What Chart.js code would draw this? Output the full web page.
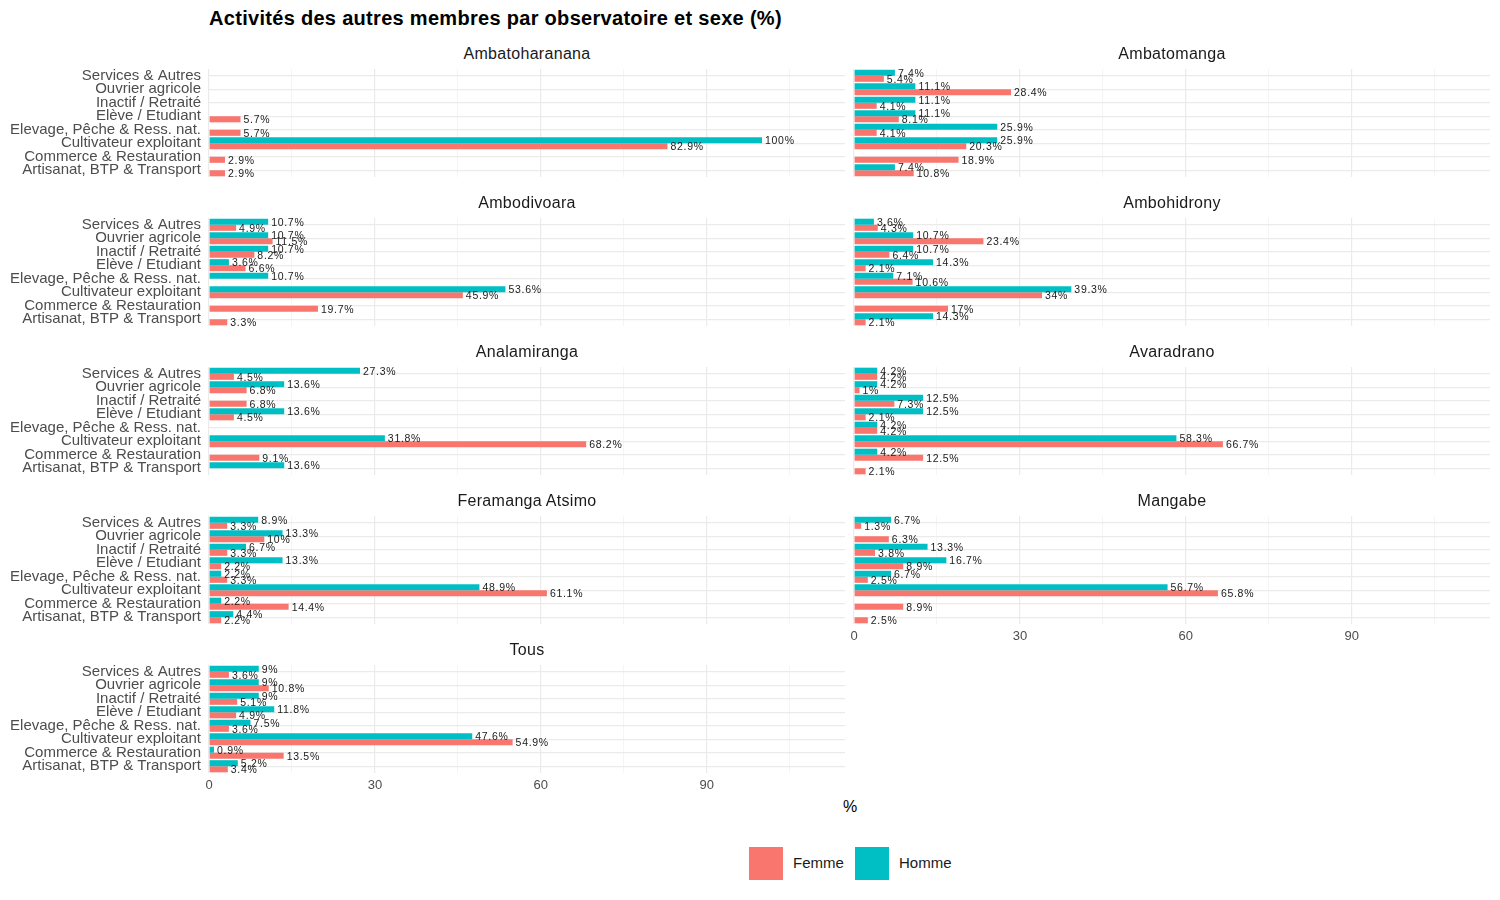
<!DOCTYPE html>
<html>
<head>
<meta charset="utf-8">
<script src="https://cdn.jsdelivr.net/npm/chart.js@4.4.1/dist/chart.umd.min.js"></script>
<style>
  body { margin: 0; background: #fff; width: 1500px; height: 900px; position: relative; overflow: hidden;
         font-family: "Liberation Sans", Arial, sans-serif; }
  canvas { position: absolute; }
  .title { position: absolute; left: 209px; top: 6px; font-size: 20px; letter-spacing: 0.3px; font-weight: bold; color: #000; line-height: 24px; }
  .strip { position: absolute; width: 636px; text-align: center; font-size: 16px; letter-spacing: 0.3px; color: #1a1a1a; line-height: 18px; }
  .xtitle { position: absolute; left: 800px; width: 100px; top: 797px; text-align: center; font-size: 16px; color: #000; line-height: 20px; }
  .key { position: absolute; top: 847px; width: 34px; height: 33px; }
  .keytxt { position: absolute; top: 854px; font-size: 15px; color: #1a1a1a; line-height: 18px; }
</style>
</head>
<body>
<div class="title">Activités des autres membres par observatoire et sexe (%)</div>
<div class="xtitle">%</div>
<div class="key" style="left:749px;background:#F8766D"></div>
<div class="keytxt" style="left:793px">Femme</div>
<div class="key" style="left:855px;background:#00BFC4"></div>
<div class="keytxt" style="left:899px">Homme</div>

<script>
// Categories, top to bottom
const categories = ['Services & Autres', 'Ouvrier agricole', 'Inactif / Retraité', 'Elève / Etudiant',
  'Elevage, Pêche & Ress. nat.', 'Cultivateur exploitant', 'Commerce & Restauration', 'Artisanat, BTP & Transport'];

const panelNames = ['Ambatoharanana', 'Ambatomanga', 'Ambodivoara', 'Ambohidrony', 'Analamiranga',
  'Avaradrano', 'Feramanga Atsimo', 'Mangabe', 'Tous'];

// Homme / Femme values (%), same order as categories; null = no bar
const ambatoharananaH = [null, null, null, null, null, 100, null, null];
const ambatoharananaF = [null, null, null, 5.7, 5.7, 82.9, 2.9, 2.9];
const ambatomangaH = [7.4, 11.1, 11.1, 11.1, 25.9, 25.9, null, 7.4];
const ambatomangaF = [5.4, 28.4, 4.1, 8.1, 4.1, 20.3, 18.9, 10.8];
const ambodivoaraH = [10.7, 10.7, 10.7, 3.6, 10.7, 53.6, null, null];
const ambodivoaraF = [4.9, 11.5, 8.2, 6.6, null, 45.9, 19.7, 3.3];
const ambohidronyH = [3.6, 10.7, 10.7, 14.3, 7.1, 39.3, null, 14.3];
const ambohidronyF = [4.3, 23.4, 6.4, 2.1, 10.6, 34, 17, 2.1];
const analamirangaH = [27.3, 13.6, null, 13.6, null, 31.8, null, 13.6];
const analamirangaF = [4.5, 6.8, 6.8, 4.5, null, 68.2, 9.1, null];
const avaradranoH = [4.2, 4.2, 12.5, 12.5, 4.2, 58.3, 4.2, null];
const avaradranoF = [4.2, 1, 7.3, 2.1, 4.2, 66.7, 12.5, 2.1];
const feramangaH = [8.9, 13.3, 6.7, 13.3, 2.2, 48.9, 2.2, 4.4];
const feramangaF = [3.3, 10, 3.3, 2.2, 3.3, 61.1, 14.4, 2.2];
const mangabeH = [6.7, null, 13.3, 16.7, 6.7, 56.7, null, null];
const mangabeF = [1.3, 6.3, 3.8, 8.9, 2.5, 65.8, 8.9, 2.5];
const tousH = [9, 9, 9, 11.8, 7.5, 47.6, 0.9, 5.2];
const tousF = [3.6, 10.8, 5.1, 4.9, 3.6, 54.9, 13.5, 3.4];

const hommeValues = [ambatoharananaH, ambatomangaH, ambodivoaraH, ambohidronyH, analamirangaH,
  avaradranoH, feramangaH, mangabeH, tousH];
const femmeValues = [ambatoharananaF, ambatomangaF, ambodivoaraF, ambohidronyF, analamirangaF,
  avaradranoF, feramangaF, mangabeF, tousF];

const majorTicks = [0, 30, 60, 90];
const minorTicks = [15, 45, 75, 105];
const xMax = 115;

// Text after each bar
const valueLabels = {
  id: 'valueLabels',
  afterDatasetsDraw(chart) {
    const ctx = chart.ctx;
    ctx.save();
    ctx.font = '10.5px "Liberation Sans", Arial, sans-serif';
    ctx.letterSpacing = '0.7px';
    ctx.fillStyle = '#1a1a1a';
    ctx.textBaseline = 'middle';
    chart.data.datasets.forEach((ds, di) => {
      chart.getDatasetMeta(di).data.forEach((bar, j) => {
        const v = ds.data[j];
        if (v == null) return;
        ctx.fillText(v + '%', bar.x + 3, bar.y + 1);
      });
    });
    ctx.restore();
  }
};

function makePanel(i) {
  const col = i % 2;
  const row = Math.floor(i / 2);
  const isLeft = col === 0;
  const showX = row === 4 || (row === 3 && col === 1);

  const canvas = document.createElement('canvas');
  const cLeft = isLeft ? 0 : 844;
  const cWidth = isLeft ? 850 : 651;
  const yAxisW = isLeft ? 209 : 10;
  const top = 69 + row * 149;
  canvas.width = cWidth;
  canvas.height = 138;
  canvas.style.left = cLeft + 'px';
  canvas.style.top = top + 'px';
  document.body.appendChild(canvas);

  const strip = document.createElement('div');
  strip.className = 'strip';
  strip.textContent = panelNames[i];
  strip.style.left = (isLeft ? 209 : 854) + 'px';
  strip.style.top = (45 + row * 149) + 'px';
  document.body.appendChild(strip);

  new Chart(canvas, {
    type: 'bar',
    data: {
      labels: categories,
      datasets: [
        { label: 'Homme', data: hommeValues[i], backgroundColor: '#00BFC4' },
        { label: 'Femme', data: femmeValues[i], backgroundColor: '#F8766D' }
      ]
    },
    options: {
      indexAxis: 'y',
      responsive: false,
      animation: false,
      categoryPercentage: 0.9,
      barPercentage: 1.0,
      layout: { padding: { left: 0, right: 5, top: 0, bottom: 0 } },
      plugins: { legend: { display: false }, tooltip: { enabled: false } },
      scales: {
        x: {
          type: 'linear',
          min: 0,
          max: xMax,
          afterBuildTicks: s => {
            s.ticks = majorTicks.concat(minorTicks).sort((a, b) => a - b).map(v => ({ value: v }));
          },
          afterFit: s => { s.height = 30; },
          grid: {
            drawTicks: false,
            color: c => majorTicks.includes(c.tick.value) ? '#ebebeb' : '#f2f2f2',
            lineWidth: c => majorTicks.includes(c.tick.value) ? 1.2 : 0.8
          },
          border: { display: false },
          ticks: {
            autoSkip: false,
            maxRotation: 0,
            padding: 5,
            color: '#4d4d4d',
            font: { size: 13 },
            callback: v => (showX && majorTicks.includes(v)) ? v : ''
          }
        },
        y: {
          type: 'category',
          offset: true,
          afterFit: s => { s.width = yAxisW; s.paddingTop = 0; s.paddingBottom = 0; },
          grid: { offset: false, drawTicks: false, color: '#ebebeb', lineWidth: 1.2 },
          border: { display: false },
          ticks: { display: isLeft, padding: 8, color: '#4d4d4d', font: { size: 15 }, autoSkip: false }
        }
      }
    },
    plugins: [valueLabels]
  });
}

for (let i = 0; i < panelNames.length; i++) {
  makePanel(i);
}
</script>
</body>
</html>
